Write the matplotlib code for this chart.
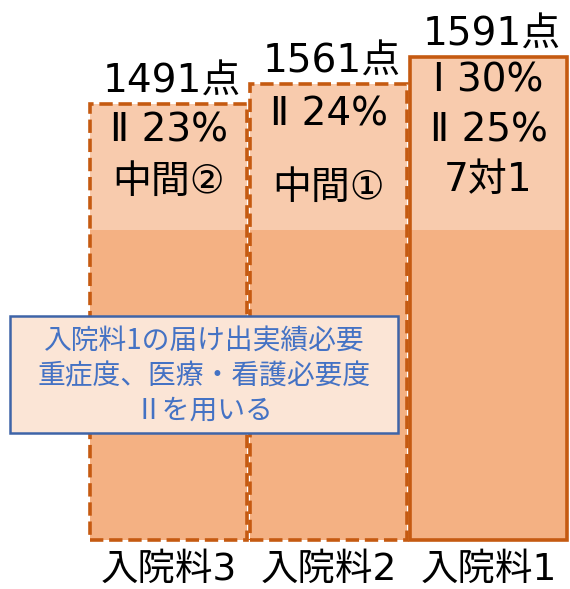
import matplotlib
matplotlib.use("Agg")
import matplotlib.pyplot as plt
from matplotlib.patches import Rectangle

plt.rcParams['font.family'] = ['DejaVu Sans', 'Noto Sans CJK JP']

categories = ["入院料3", "入院料2", "入院料1"]
points = [1491, 1561, 1591]
# drawn heights (schematic in pixel units)
base_heights = [310, 310, 310]
top_heights = [126, 146, 173]
inner_labels = [["Ⅱ 23%", "中間②"], ["Ⅱ 24%", "中間①"], ["Ⅰ 30%", "Ⅱ 25%", "7対1"]]
edge_styles = ["--", "--", "-"]
note_text = "入院料1の届け出実績必要\n重症度、医療・看護必要度\nⅡを用いる"

dark = "#F4B183"
light = "#F8CBAD"
edge = "#C55A11"

fig = plt.figure(figsize=(5.70, 5.89), dpi=100)
ax = fig.add_axes([0, 0, 1, 1])
ax.set_xlim(-1.053, 2.509)
ax.set_ylim(-49, 540)
ax.axis("off")

x = list(range(len(categories)))
width = 0.98
ax.bar(x, base_heights, width=width, color=dark, linewidth=0)
ax.bar(x, top_heights, width=width, bottom=base_heights, color=light, linewidth=0)
totals = [b + t for b, t in zip(base_heights, top_heights)]
for xi, tot, ls in zip(x, totals, edge_styles):
    ax.bar(xi, tot, width=width, fill=False, edgecolor=edge, linewidth=2.6,
           linestyle=ls, zorder=3)

for xi, tot, p in zip(x, totals, points):
    ax.text(xi + 0.02, tot + 11, f"{p}点", ha="center", va="baseline", fontsize=28, color="black")

offsets = [[-27, -78], [-31, -104], [-23, -74, -123]]
for xi, tot, labs, offs in zip(x, totals, inner_labels, offsets):
    for lab, off in zip(labs, offs):
        ax.text(xi, tot + off, lab, ha="center", va="center", fontsize=28, color="black")

for xi, c in zip(x, categories):
    ax.text(xi, -30, c, ha="center", va="center", fontsize=27, color="black")

# note box
bx0 = 10 / 160 - 1.053
bw = (398 - 10) / 160
box = Rectangle((bx0, 540 - 433), bw, 433 - 316,
                facecolor="#FBE5D6", edgecolor="#3E64A8", linewidth=1.8, zorder=4)
ax.add_patch(box)
ax.text(bx0 + bw / 2, 540 - 376, note_text, ha="center", va="center",
        fontsize=20, color="#4472C4", linespacing=1.22, zorder=5,
        family=['Noto Sans CJK JP', 'DejaVu Sans'])

fig.savefig("out.png", dpi=100)
